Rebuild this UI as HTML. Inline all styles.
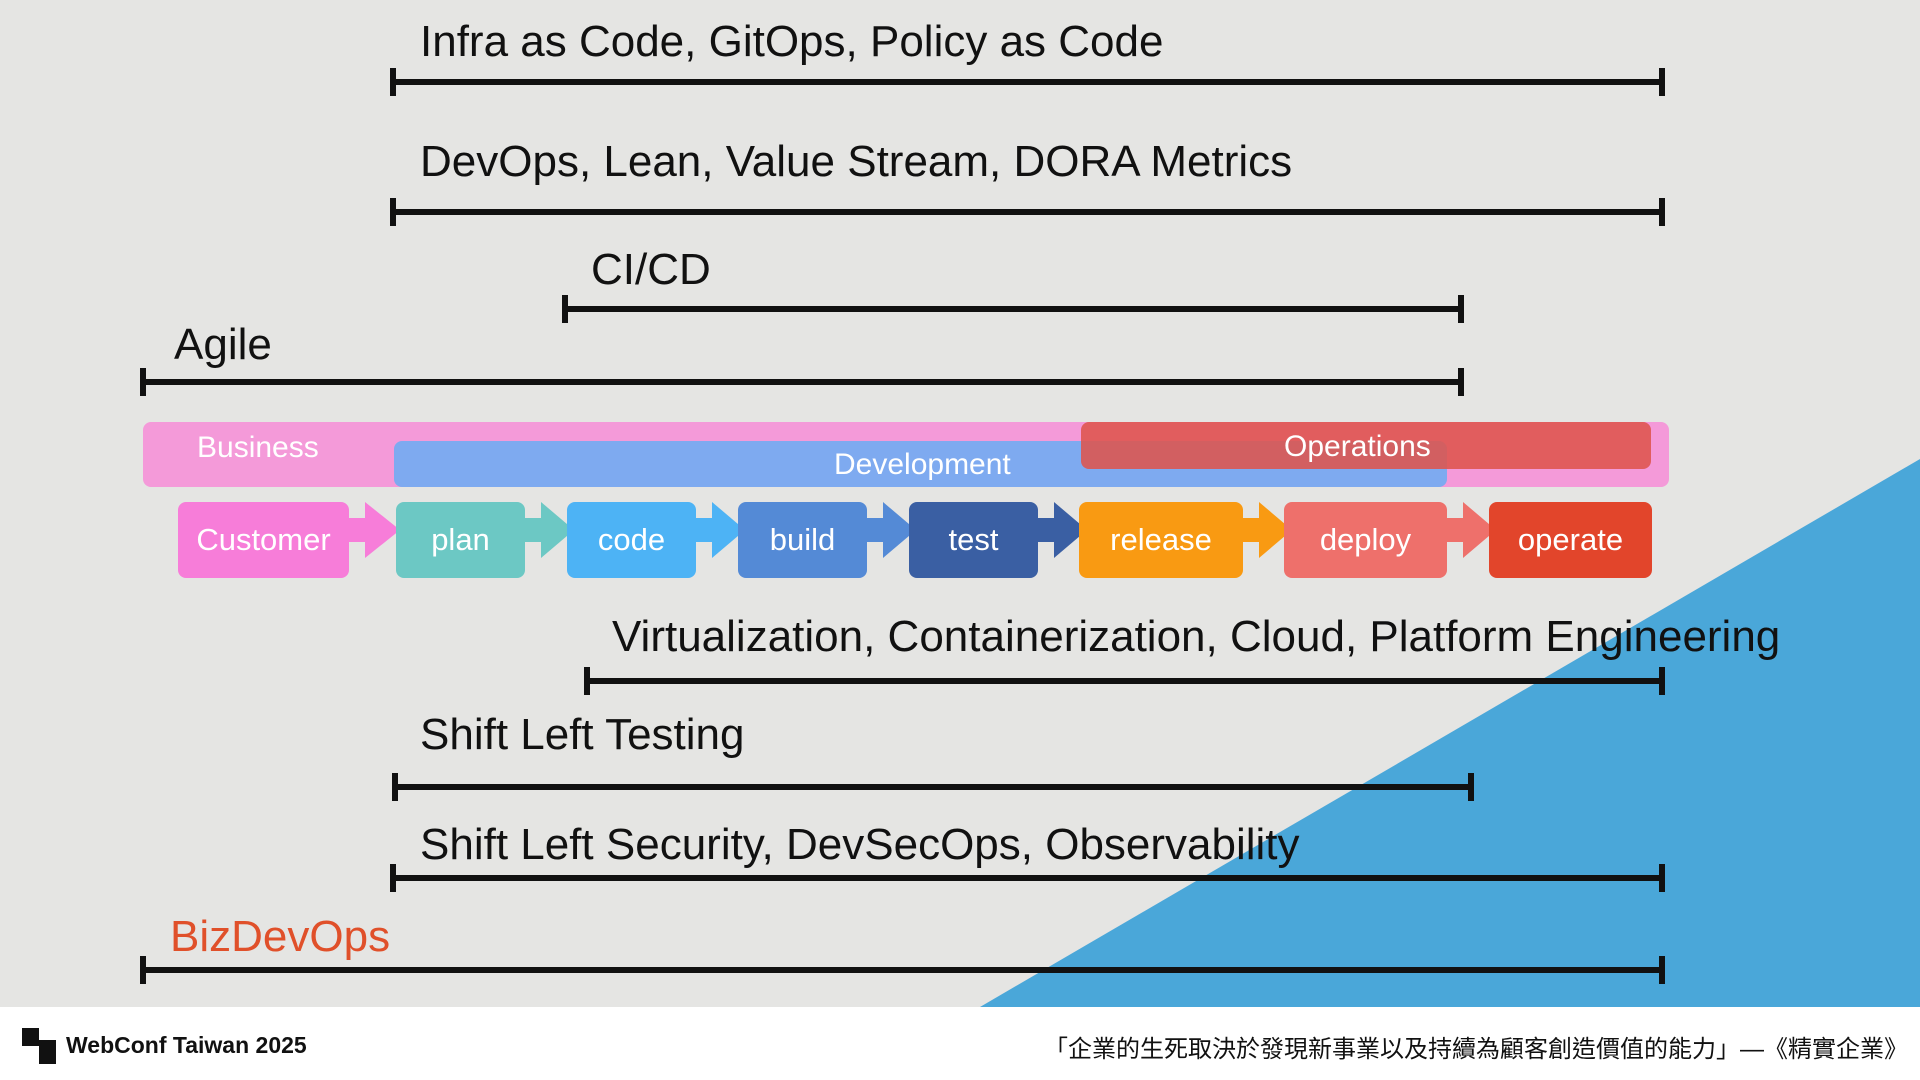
<!DOCTYPE html>
<html><head><meta charset="utf-8"><style>
*{margin:0;padding:0}
body{width:1920px;height:1080px;position:relative;overflow:hidden;background:#fff;font-family:"Liberation Sans","Noto Sans CJK TC",sans-serif}
#bg{position:absolute;left:0;top:0;width:1920px;height:1007px;background:#e5e5e3}
.t{position:absolute;font-size:44px;color:#111;line-height:1;white-space:nowrap}
.ln{position:absolute;height:6px;background:#111}
.ln:before,.ln:after{content:"";position:absolute;top:-11px;width:6px;height:28px;background:#111}
.ln:before{left:0}.ln:after{right:0}
.bar{position:absolute;border-radius:8px;color:#fff;font-size:30px}
.bx{position:absolute;top:502px;height:76px;border-radius:8px;color:#fff;font-size:31px;display:flex;align-items:center;justify-content:center}
</style></head><body>
<div id="bg"></div>
<svg style="position:absolute;left:0;top:0" width="1920" height="1007"><polygon points="980,1007 1920,459 1920,1007" fill="#4aa7d9"/></svg>

<div class="t" style="left:420px;top:20px">Infra as Code, GitOps, Policy as Code</div>
<div class="ln" style="left:390px;top:79px;width:1275px"></div>
<div class="t" style="left:420px;top:140px">DevOps, Lean, Value Stream, DORA Metrics</div>
<div class="ln" style="left:390px;top:209px;width:1275px"></div>
<div class="t" style="left:591px;top:248px">CI/CD</div>
<div class="ln" style="left:562px;top:306px;width:902px"></div>
<div class="t" style="left:174px;top:323px">Agile</div>
<div class="ln" style="left:140px;top:379px;width:1324px"></div>

<div class="bar" style="left:143px;top:422px;width:1526px;height:65px;background:#f49ad9"><span style="position:absolute;left:54px;top:9px">Business</span></div>
<div class="bar" style="left:394px;top:441px;width:1053px;height:46px;background:#7eaaf0"><span style="position:absolute;left:440px;top:7px">Development</span></div>
<div class="bar" style="left:1081px;top:422px;width:570px;height:47px;background:rgba(222,84,76,.88)"><span style="position:absolute;left:203px;top:8px">Operations</span></div>

<svg style="position:absolute;left:0;top:490px" width="1920" height="100">
<g>
<rect x="345" y="28" width="25" height="24" fill="#f77dd9"/><polygon points="365,12 400,40 365,68" fill="#f77dd9"/>
<rect x="521" y="28" width="25" height="24" fill="#6cc8c4"/><polygon points="541,12 574,40 541,68" fill="#6cc8c4"/>
<rect x="692" y="28" width="25" height="24" fill="#4db3f5"/><polygon points="712,12 745,40 712,68" fill="#4db3f5"/>
<rect x="863" y="28" width="25" height="24" fill="#548ad6"/><polygon points="883,12 916,40 883,68" fill="#548ad6"/>
<rect x="1034" y="28" width="25" height="24" fill="#3a5fa3"/><polygon points="1054,12 1087,40 1054,68" fill="#3a5fa3"/>
<rect x="1239" y="28" width="25" height="24" fill="#f99a12"/><polygon points="1259,12 1292,40 1259,68" fill="#f99a12"/>
<rect x="1443" y="28" width="25" height="24" fill="#ee706b"/><polygon points="1463,12 1496,40 1463,68" fill="#ee706b"/>
</g></svg>
<div class="bx" style="left:178px;width:171px;background:#f77dd9">Customer</div>
<div class="bx" style="left:396px;width:129px;background:#6cc8c4">plan</div>
<div class="bx" style="left:567px;width:129px;background:#4db3f5">code</div>
<div class="bx" style="left:738px;width:129px;background:#548ad6">build</div>
<div class="bx" style="left:909px;width:129px;background:#3a5fa3">test</div>
<div class="bx" style="left:1079px;width:164px;background:#f99a12">release</div>
<div class="bx" style="left:1284px;width:163px;background:#ee706b">deploy</div>
<div class="bx" style="left:1489px;width:163px;background:#e2452b">operate</div>

<div class="t" style="left:612px;top:615px">Virtualization, Containerization, Cloud, Platform Engineering</div>
<div class="ln" style="left:584px;top:678px;width:1081px"></div>
<div class="t" style="left:420px;top:713px">Shift Left Testing</div>
<div class="ln" style="left:392px;top:784px;width:1082px"></div>
<div class="t" style="left:420px;top:823px">Shift Left Security, DevSecOps, Observability</div>
<div class="ln" style="left:390px;top:875px;width:1275px"></div>
<div class="t" style="left:170px;top:915px;color:#e0502a">BizDevOps</div>
<div class="ln" style="left:140px;top:967px;width:1525px"></div>

<div style="position:absolute;left:22px;top:1028px;width:17px;height:18px;background:#111"></div>
<div style="position:absolute;left:39px;top:1040px;width:17px;height:24px;background:#111"></div>
<div style="position:absolute;left:66px;top:1032px;font-size:23px;font-weight:bold;color:#111">WebConf Taiwan 2025</div>
<div style="position:absolute;right:12px;top:1029px;font-size:24px;color:#111">「企業的生死取決於發現新事業以及持續為顧客創造價值的能力」—《精實企業》</div>
</body></html>
